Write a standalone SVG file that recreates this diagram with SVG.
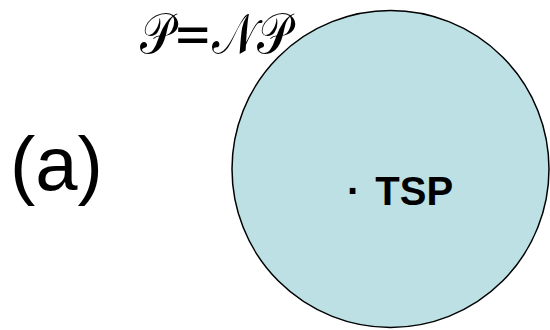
<svg xmlns="http://www.w3.org/2000/svg" width="550" height="330" viewBox="0 0 550 330">
  <style>
    .label { font-family: "Liberation Sans", Arial, sans-serif; fill: #000; }
    .script { font-family: "DejaVu Serif", "Noto Sans", serif; fill: #000; }
    .set { fill: #bce0e3; stroke: #000; stroke-width: 1.5; }
  </style>
  <rect width="550" height="330" fill="#fff"/>
  <text class="label" x="10" y="190" font-size="76">(a)</text>
  <g id="np-set">
    <circle class="set" cx="390.5" cy="169" r="158.5"/>
    <text class="script" x="140" y="53" font-size="56" textLength="150" lengthAdjust="spacingAndGlyphs">𝒫=𝒩𝒫</text>
  </g>
  <g id="tsp">
    <text class="label" x="347" y="205" font-size="40" font-weight="bold"><tspan>·</tspan><tspan dx="15">TSP</tspan></text>
  </g>
</svg>
